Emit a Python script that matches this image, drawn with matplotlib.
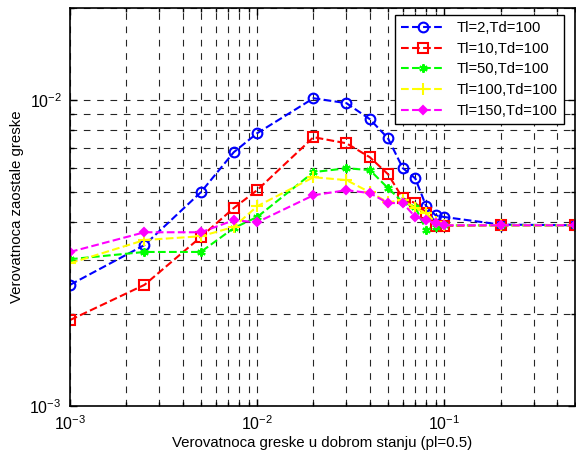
import matplotlib
matplotlib.use("Agg")
import matplotlib.pyplot as plt
from matplotlib.ticker import LogLocator, NullFormatter

plt.rcParams['font.family'] = ['Liberation Sans', 'DejaVu Sans']
plt.rcParams['mathtext.fontset'] = 'custom'
plt.rcParams['mathtext.rm'] = 'Liberation Sans'

# probability of error in good state
pe = [1e-3, 2.5e-3, 5e-3, 7.5e-3, 1e-2, 2e-2, 3e-2, 4e-2, 5e-2, 6e-2,
      7e-2, 8e-2, 9e-2, 1e-1, 2e-1, 5e-1]

# residual error probability for each (Tl, Td) pair
tl2 = [2.49e-3, 3.36e-3, 5.0e-3, 6.76e-3, 7.8e-3, 1.015e-2, 9.78e-3, 8.67e-3,
       7.51e-3, 6.0e-3, 5.55e-3, 4.5e-3, 4.2e-3, 4.15e-3, 3.92e-3, 3.9e-3]
tl10 = [1.91e-3, 2.49e-3, 3.57e-3, 4.44e-3, 5.08e-3, 7.57e-3, 7.23e-3, 6.51e-3,
        5.73e-3, 4.78e-3, 4.61e-3, 4.27e-3, 3.88e-3, 3.88e-3, 3.9e-3, 3.9e-3]
tl50 = [3.02e-3, 3.19e-3, 3.19e-3, 3.82e-3, 4.15e-3, 5.82e-3, 5.99e-3, 5.91e-3,
        5.16e-3, 4.64e-3, 4.47e-3, 3.76e-3, 3.85e-3, 3.9e-3, 3.9e-3, 3.9e-3]
tl100 = [2.93e-3, 3.49e-3, 3.59e-3, 3.85e-3, 4.5e-3, 5.6e-3, 5.48e-3, 5.0e-3,
         4.64e-3, 4.71e-3, 4.44e-3, 4.27e-3, 3.99e-3, 3.9e-3, 3.9e-3, 3.9e-3]
tl150 = [3.19e-3, 3.7e-3, 3.7e-3, 4.05e-3, 3.99e-3, 4.89e-3, 5.08e-3, 4.97e-3,
         4.61e-3, 4.61e-3, 4.15e-3, 4.05e-3, 3.96e-3, 3.9e-3, 3.9e-3, 3.9e-3]

labels = ['Tl=2,Td=100', 'Tl=10,Td=100', 'Tl=50,Td=100',
          'Tl=100,Td=100', 'Tl=150,Td=100']

fig = plt.figure(figsize=(5.76, 4.54), dpi=100)
ax = fig.add_axes([0.1215, 0.1057, 0.877, 0.8763])

ax.loglog(pe, tl2, '--', color=(0, 0, 1), lw=1.5, marker='o', ms=7,
          mfc='none', mew=1.5, label=labels[0])
ax.loglog(pe, tl10, '--', color=(1, 0, 0), lw=1.5, marker='s', ms=7,
          mfc='none', mew=1.5, label=labels[1])
ax.loglog(pe, tl50, '--', color=(0, 1, 0), lw=1.5, marker=(6, 2, 0), ms=6,
          mew=1.5, label=labels[2])
ax.loglog(pe, tl100, '--', color=(1, 1, 0), lw=1.5, marker='+', ms=9,
          mew=1.5, label=labels[3])
ax.loglog(pe, tl150, '--', color=(1, 0, 1), lw=1.5, marker='D', ms=4.5,
          mew=1.5, label=labels[4])

ax.set_xlim(1e-3, 0.5)
ax.set_ylim(1e-3, 2e-2)

# MATLAB-like grid
ax.xaxis.set_minor_locator(LogLocator(base=10, subs=range(2, 10)))
ax.yaxis.set_minor_locator(LogLocator(base=10, subs=range(2, 10)))
ax.xaxis.set_minor_formatter(NullFormatter())
ax.yaxis.set_minor_formatter(NullFormatter())
ax.grid(True, which='both', color='0.15', linestyle=(0, (6, 6)), lw=0.8)
ax.set_axisbelow(True)

ax.tick_params(which='both', direction='in', top=True, right=True,
               labelsize=11.5, width=1)
ax.tick_params(which='major', length=5)
ax.tick_params(which='minor', length=3)
ax.tick_params(axis='x', which='major', pad=6)
ax.tick_params(axis='y', which='major', pad=6)
for s in ax.spines.values():
    s.set_linewidth(1.2)

ax.set_xlabel('Verovatnoca greske u dobrom stanju (pl=0.5)', fontsize=10.8,
              labelpad=2)
ax.set_ylabel('Verovatnoca zaostale greske', fontsize=10.8, labelpad=4)

leg = ax.legend(loc='upper right', bbox_to_anchor=(0.978, 0.982),
                fontsize=10.6, fancybox=False, framealpha=1,
                edgecolor='black', handlelength=3, borderaxespad=0,
                labelspacing=0.45)
leg.get_frame().set_linewidth(1.0)

fig.savefig('out.png', dpi=100)
